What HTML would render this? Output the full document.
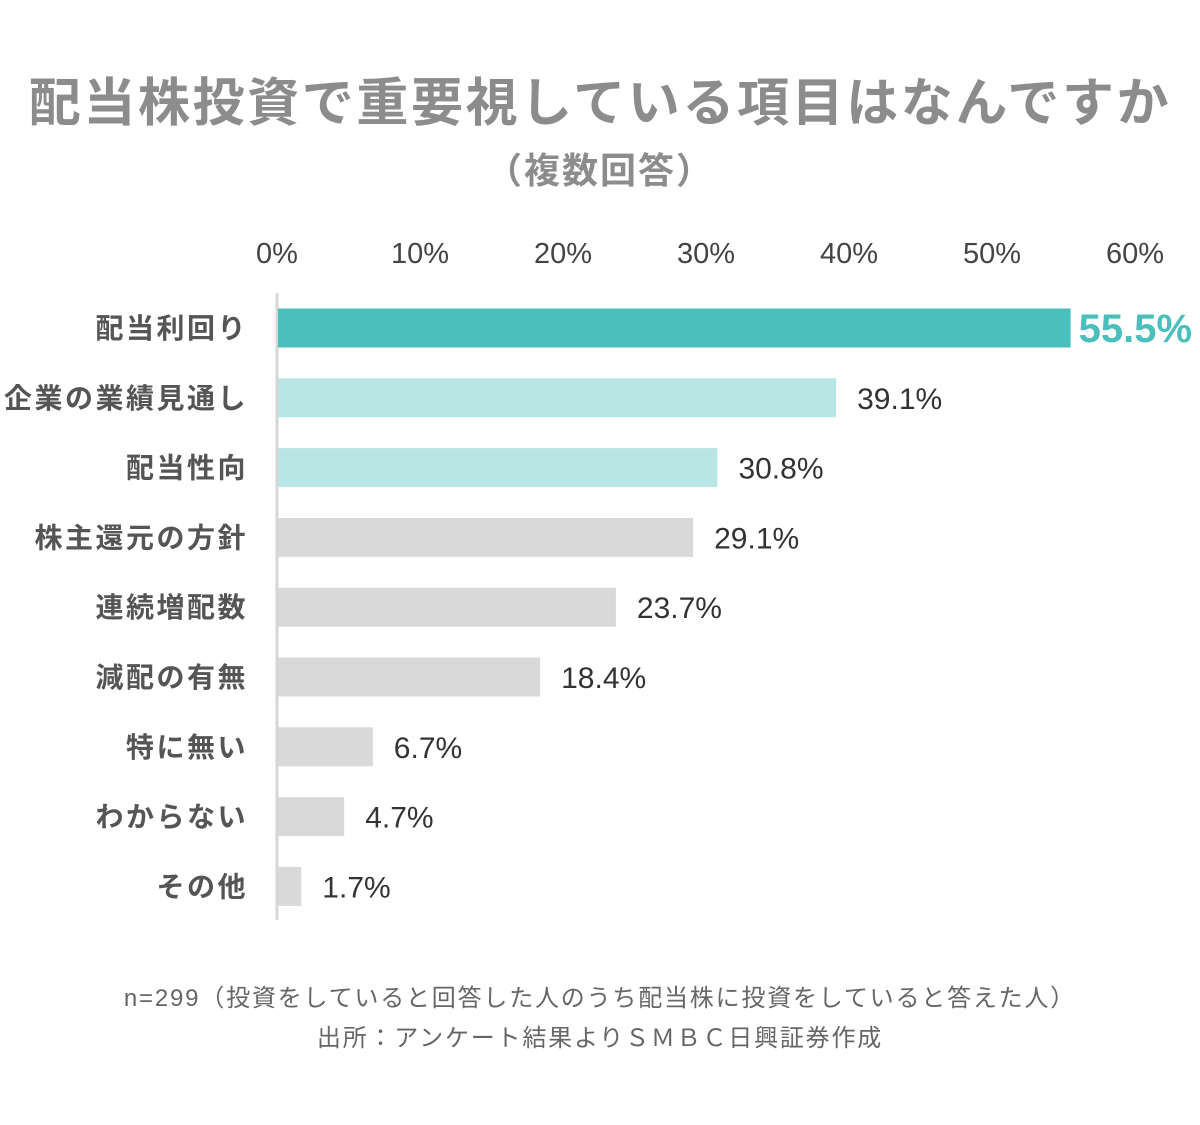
<!DOCTYPE html>
<html><head><meta charset="utf-8"><style>
body{margin:0;background:#fff;}
svg text{font-family:"Liberation Sans","Noto Sans CJK JP",sans-serif;}
</style></head><body>
<svg width="1200" height="1120" viewBox="0 0 1200 1120" xmlns="http://www.w3.org/2000/svg">
<text x="600" y="121" text-anchor="middle" font-size="52" font-weight="bold" letter-spacing="2.6" fill="#8c8c8c">配当株投資で重要視している項目はなんですか</text>
<text x="600" y="183" text-anchor="middle" font-size="36" font-weight="bold" letter-spacing="2" fill="#8c8c8c">（複数回答）</text>
<g id="ticks"></g>
<line x1="277" y1="293" x2="277" y2="920" stroke="#d6d6d6" stroke-width="3"/>
<g id="bars"></g>
<text x="600" y="1006" text-anchor="middle" font-size="24" letter-spacing="1.8" fill="#666">n=299（投資をしていると回答した人のうち配当株に投資をしていると答えた人）</text>
<text x="600" y="1046" text-anchor="middle" font-size="24" letter-spacing="1.8" fill="#666">出所：アンケート結果よりＳＭＢＣ日興証券作成</text>
</svg>
<script>
const categories=["配当利回り","企業の業績見通し","配当性向","株主還元の方針","連続増配数","減配の有無","特に無い","わからない","その他"];
const values=[55.5,39.1,30.8,29.1,23.7,18.4,6.7,4.7,1.7];
const tickValues=[0,10,20,30,40,50,60];
const ns="http://www.w3.org/2000/svg";
const x0=277,pxPer=(1135-277)/60;
const xs=v=>x0+v*pxPer;
const ys=i=>328+i*69.8;
const tg=document.getElementById('ticks');
tickValues.forEach(t=>{
 const el=document.createElementNS(ns,'text');
 el.setAttribute('x',xs(t));el.setAttribute('y',263);el.setAttribute('text-anchor','middle');
 el.setAttribute('font-size','29');el.setAttribute('fill','#444');
 el.textContent=t+'%';
 
 
 tg.appendChild(el);
});
const bg=document.getElementById('bars');
values.forEach((v,i)=>{
 const c=i===0?'#4bbfbc':(i<3?'#b9e6e4':'#d9d9d9');
 const r=document.createElementNS(ns,'rect');
 r.setAttribute('x',x0+1);r.setAttribute('y',ys(i)-19.5);r.setAttribute('width',xs(v)-x0-1);r.setAttribute('height',39);r.setAttribute('fill',c);
 
 
 bg.appendChild(r);
 const l=document.createElementNS(ns,'text');
 l.setAttribute('x',248);l.setAttribute('y',ys(i)+10);l.setAttribute('text-anchor','end');
 l.setAttribute('font-size','28');l.setAttribute('font-weight','bold');l.setAttribute('fill','#555');l.setAttribute('letter-spacing','2.5');
 l.textContent=categories[i];
 
 
 bg.appendChild(l);
 const t=document.createElementNS(ns,'text');
 if(i===0){t.setAttribute('x',xs(v)+8);t.setAttribute('y',ys(i)+14);t.setAttribute('font-size','40');t.setAttribute('font-weight','bold');t.setAttribute('fill','#4bbfbc');}
 else{t.setAttribute('x',xs(v)+21);t.setAttribute('y',ys(i)+11);t.setAttribute('font-size','30');t.setAttribute('fill','#333');}
 t.textContent=v.toFixed(1)+'%';
 
 
 bg.appendChild(t);
});
</script>
</body></html>
